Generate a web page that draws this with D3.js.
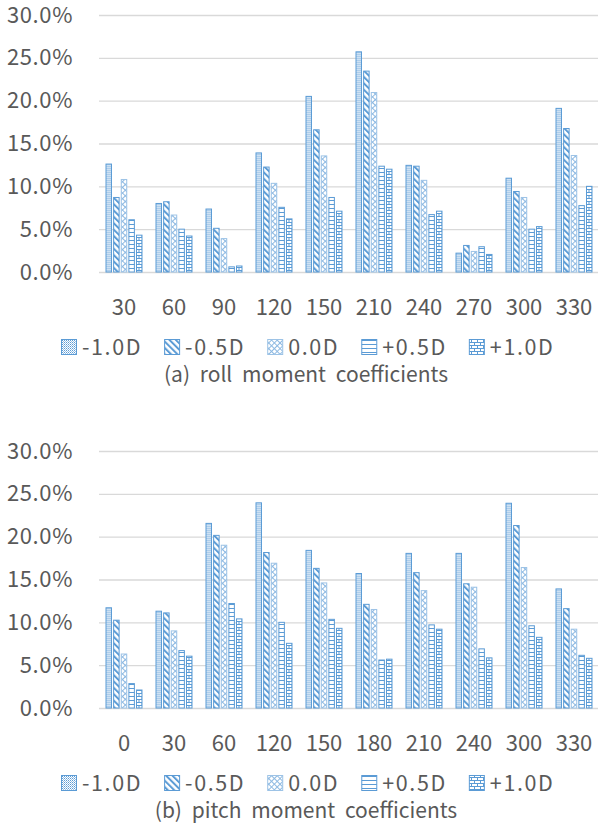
<!DOCTYPE html>
<html>
<head>
<meta charset="utf-8">
<script src="https://cdn.jsdelivr.net/npm/d3@7"></script>
<style>
  body { margin: 0; background: #fff; }
  text { font-family: "Noto Sans CJK KR", "Noto Sans", sans-serif; fill: #595959; }
</style>
</head>
<body>
<div id="chart"></div>
<script>
// series names (draft offsets)
var seriesNames = ["-1.0D", "-0.5D", "0.0D", "+0.5D", "+1.0D"];

// (a) roll moment coefficients, values in %
var rollAngles = ["30", "60", "90", "120", "150", "210", "240", "270", "300", "330"];
var rollNeg10 = [12.6, 8.0, 7.35, 13.9, 20.5, 25.7, 12.45, 2.2, 10.95, 19.1];
var rollNeg05 = [8.7, 8.2, 5.1, 12.25, 16.6, 23.45, 12.35, 3.1, 9.4, 16.75];
var rollZero  = [10.8, 6.65, 3.9, 10.35, 13.55, 20.95, 10.7, 2.4, 8.7, 13.6];
var rollPos05 = [6.1, 5.0, 0.6, 7.55, 8.7, 12.35, 6.7, 2.95, 5.0, 7.75];
var rollPos10 = [4.3, 4.2, 0.7, 6.2, 7.1, 12.0, 7.1, 2.05, 5.3, 10.0];

// (b) pitch moment coefficients, values in %
var pitchAngles = ["0", "30", "60", "120", "150", "180", "210", "240", "300", "330"];
var pitchNeg10 = [11.7, 11.3, 21.55, 23.95, 18.4, 15.7, 18.05, 18.05, 23.9, 13.9];
var pitchNeg05 = [10.25, 11.1, 20.15, 18.15, 16.3, 12.1, 15.8, 14.5, 21.3, 11.6];
var pitchZero  = [6.3, 9.0, 19.0, 16.9, 14.6, 11.5, 13.7, 14.1, 16.4, 9.2];
var pitchPos05 = [2.85, 6.7, 12.2, 10.0, 10.35, 5.6, 9.7, 6.9, 9.6, 6.15];
var pitchPos10 = [2.1, 6.05, 10.4, 7.55, 9.3, 5.7, 9.2, 5.85, 8.25, 5.8];

var yTicks = [0, 5, 10, 15, 20, 25, 30];

var width = 598, height = 829;
var blue = "#5B9BD5";

var svg = d3.select("#chart").append("svg")
    .attr("width", width)
    .attr("height", height);

// fill patterns, one per series
var defs = svg.append("defs");
var patternIds = ["p-dots", "p-diag", "p-cross", "p-horiz", "p-brick"];

var p = defs.append("pattern").attr("id", "p-dots")
    .attr("patternUnits", "userSpaceOnUse").attr("width", 2).attr("height", 2);
p.append("rect").attr("width", 2).attr("height", 2).attr("fill", "#fff");
p.append("rect").attr("x", 0).attr("y", 0).attr("width", 1).attr("height", 1).attr("fill", blue);
p.append("rect").attr("x", 1).attr("y", 1).attr("width", 1).attr("height", 1).attr("fill", "#9DC3E6");

p = defs.append("pattern").attr("id", "p-diag")
    .attr("patternUnits", "userSpaceOnUse").attr("width", 4.5).attr("height", 4.5)
    .attr("patternTransform", "rotate(-45)");
p.append("rect").attr("width", 4.5).attr("height", 4.5).attr("fill", "#fff");
p.append("rect").attr("width", 2).attr("height", 4.5).attr("fill", blue);

p = defs.append("pattern").attr("id", "p-cross")
    .attr("patternUnits", "userSpaceOnUse").attr("width", 4).attr("height", 4)
    .attr("patternTransform", "rotate(45)");
p.append("rect").attr("width", 4).attr("height", 4).attr("fill", "#fff");
p.append("rect").attr("width", 1).attr("height", 4).attr("fill", "#8DB9E2");
p.append("rect").attr("width", 4).attr("height", 1).attr("fill", "#8DB9E2");

p = defs.append("pattern").attr("id", "p-horiz")
    .attr("patternUnits", "userSpaceOnUse").attr("width", 4).attr("height", 4);
p.append("rect").attr("width", 4).attr("height", 4).attr("fill", "#fff");
p.append("rect").attr("y", 0).attr("width", 4).attr("height", 1).attr("fill", blue);

p = defs.append("pattern").attr("id", "p-brick")
    .attr("patternUnits", "userSpaceOnUse").attr("width", 6).attr("height", 6);
p.append("rect").attr("width", 6).attr("height", 6).attr("fill", "#fff");
p.append("rect").attr("y", 0).attr("width", 6).attr("height", 1).attr("fill", blue);
p.append("rect").attr("y", 3).attr("width", 6).attr("height", 1).attr("fill", blue);
p.append("rect").attr("x", 0).attr("y", 0).attr("width", 1).attr("height", 3).attr("fill", blue);
p.append("rect").attr("x", 3).attr("y", 3).attr("width", 1).attr("height", 3).attr("fill", blue);

function drawChart(angles, values, y0, caption) {
    var x = d3.scaleBand().domain(angles).range([99, 599])
        .paddingInner(0.26).paddingOuter(0.13);
    var xs = d3.scaleBand().domain(seriesNames).range([0, x.bandwidth()]).paddingInner(0.15);
    var y = d3.scaleLinear().domain([0, 30]).range([y0, y0 - 257]);

    var g = svg.append("g");

    // y axis with gridlines
    var yAxis = g.append("g").attr("transform", "translate(99,0)")
        .call(d3.axisLeft(y).tickValues(yTicks).tickSize(-499).tickPadding(26)
            .tickFormat(function(d) { return d.toFixed(1) + "%"; }));
    yAxis.select(".domain").remove();
    yAxis.selectAll("line").attr("stroke", "#D9D9D9").attr("stroke-width", 1.3);
    yAxis.selectAll("text").attr("font-size", 22).attr("fill", "#595959")
        .attr("font-family", "Noto Sans CJK KR").attr("letter-spacing", 0.6);

    // x axis labels
    var xAxis = g.append("g").attr("transform", "translate(0," + y0 + ")")
        .call(d3.axisBottom(x).tickSize(0).tickPadding(27));
    xAxis.select(".domain").remove();
    xAxis.selectAll("text").attr("font-size", 22).attr("fill", "#595959")
        .attr("font-family", "Noto Sans CJK KR");

    // bars
    var groups = g.selectAll("g.grp")
        .data(angles)
        .enter().append("g")
        .attr("class", "grp")
        .attr("transform", function(d) { return "translate(" + x(d) + ",0)"; });

    groups.selectAll("rect")
        .data(function(d, i) {
            return seriesNames.map(function(s, k) { return { s: s, k: k, v: values[k][i] }; });
        })
        .enter().append("rect")
        .attr("x", function(d) { return xs(d.s) + 0.5; })
        .attr("y", function(d) { return y(d.v); })
        .attr("width", xs.bandwidth() - 1)
        .attr("height", function(d) { return y0 - y(d.v); })
        .attr("fill", function(d) { return "url(#" + patternIds[d.k] + ")"; })
        .attr("stroke", function(d) { return d.k === 2 ? "#9DC3E6" : blue; })
        .attr("stroke-width", 1);

    // legend
    var leg = g.append("g");
    var lx = 61, ly = y0 + 83;
    seriesNames.forEach(function(s, k) {
        leg.append("rect").attr("x", lx + 0.5).attr("y", ly - 15.5)
            .attr("width", 15).attr("height", 15)
            .attr("fill", "url(#" + patternIds[k] + ")")
            .attr("stroke", k === 2 ? "#9DC3E6" : blue);
        var t = leg.append("text").attr("x", lx + 21).attr("y", ly)
            .attr("font-size", 21.5).attr("letter-spacing", 1.6).text(s);
        lx += 21 + t.node().getComputedTextLength() + 22;
    });

    // caption
    g.append("text").attr("x", 306).attr("y", y0 + 110)
        .attr("text-anchor", "middle").attr("font-size", 21)
        .attr("word-spacing", 5)
        .text(caption);
}

drawChart(rollAngles, [rollNeg10, rollNeg05, rollZero, rollPos05, rollPos10], 272,
    "(a) roll moment coefficients");
drawChart(pitchAngles, [pitchNeg10, pitchNeg05, pitchZero, pitchPos05, pitchPos10], 708,
    "(b) pitch moment coefficients");
</script>
</body>
</html>
